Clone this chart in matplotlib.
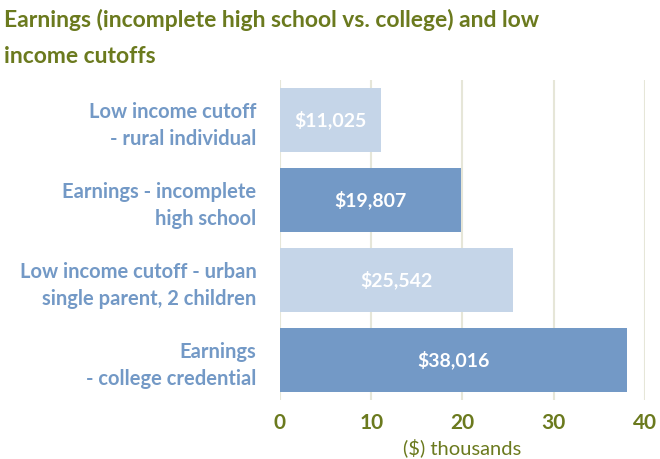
import matplotlib.pyplot as plt

categories = ['Low income cutoff\n- rural individual',
              'Earnings - incomplete\nhigh school',
              'Low income cutoff - urban\nsingle parent, 2 children',
              'Earnings\n- college credential']
values = [11025, 19807, 25542, 38016]
colors = ['#c5d5e8', '#7399c6', '#c5d5e8', '#7399c6']

olive = '#6b7a1e'
blue = '#7399c6'

plt.rcParams['font.family'] = ['Lato', 'DejaVu Sans']

fig = plt.figure(figsize=(6.6, 4.59), dpi=100)
ax = fig.add_axes([0.4242, 0.1285, 0.553, 0.697])

thousands = [v / 1000 for v in values]
bars = ax.barh(range(len(values)), thousands, height=0.8, color=colors, zorder=2)
ax.set_ylim(len(values) - 0.5, -0.5)
ax.set_xlim(0, 40)

for bar, v in zip(bars, values):
    ax.text(bar.get_width() / 2, bar.get_y() + bar.get_height() / 2,
            '${:,}'.format(v), ha='center', va='center',
            color='white', fontsize=14, fontweight='bold', zorder=3)

ax.set_yticks(range(len(values)))
ax.set_yticklabels(categories, color=blue, fontsize=14.5, fontweight='bold',
                   linespacing=1.45)
ax.set_xticks([0, 10, 20, 30, 40])
ax.set_xticklabels(['0', '10', '20', '30', '40'], color=olive,
                   fontsize=15, fontweight='bold')
ax.tick_params(axis='y', length=0, pad=17)
ax.tick_params(axis='x', length=0, pad=9)
ax.set_xlabel('($) thousands', color=olive, fontsize=14.5, labelpad=4)

ax.grid(axis='x', color='#e6e6d8', linewidth=1.5, zorder=0)
for s in ax.spines.values():
    s.set_visible(False)

fig.text(0.006, 0.98, 'Earnings (incomplete high school vs. college) and low\nincome cutoffs',
         color=olive, fontsize=16.5, fontweight='bold', va='top', ha='left',
         linespacing=1.85)

plt.savefig('out.png', dpi=100)
